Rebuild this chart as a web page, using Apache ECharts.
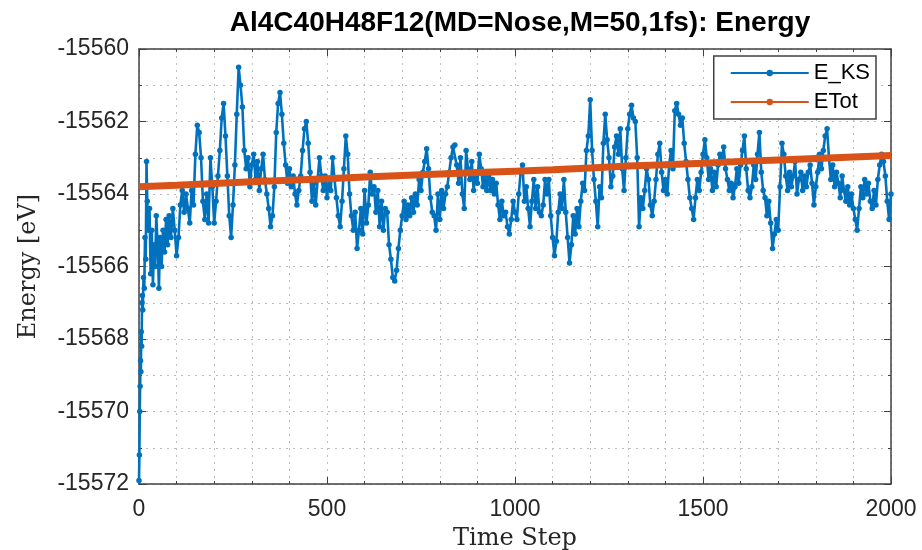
<!DOCTYPE html>
<html>
<head>
<meta charset="utf-8">
<script src="https://cdn.jsdelivr.net/npm/echarts@6/dist/echarts.min.js"></script>
<style>
  html, body { margin: 0; padding: 0; background: #fff; }
  #chart { width: 922px; height: 550px; }
</style>
</head>
<body>
<div id="chart"></div>
<script>
// MD run: Kohn-Sham energy and total energy versus time step
const titleText = 'Al4C40H48F12(MD=Nose,M=50,1fs): Energy';
const xTicks = [0, 500, 1000, 1500, 2000];
const yTicks = [-15572, -15570, -15568, -15566, -15564, -15562, -15560];

const ksStep = [
  0, 1, 2, 3, 4, 5, 6, 7, 8, 9, 10, 12, 14, 16, 18, 20, 22, 25, 28, 31, 34, 37, 40, 43, 46, 50,
  53, 56, 60, 64, 68, 72, 76, 80, 85, 90, 95, 100, 105, 110, 115, 120, 125, 130, 135, 140, 145,
  150, 155, 160, 165, 170, 175, 180, 185, 190, 195, 200, 205, 210, 215, 220, 225, 230, 235, 240,
  245, 250, 255, 260, 265, 270, 275, 280, 285, 290, 295, 300, 305, 310, 315, 320, 325, 330, 335,
  340, 345, 350, 355, 360, 365, 370, 375, 380, 385, 390, 395, 400, 405, 410, 415, 420, 425, 430,
  435, 440, 445, 450, 455, 460, 465, 470, 475, 480, 485, 490, 495, 500, 505, 510, 515, 520, 525,
  530, 535, 540, 545, 550, 555, 560, 565, 570, 575, 580, 585, 590, 595, 600, 605, 610, 615, 620,
  625, 630, 635, 640, 645, 650, 655, 660, 665, 670, 675, 680, 685, 690, 695, 700, 705, 710, 715,
  720, 725, 730, 735, 740, 745, 750, 755, 760, 765, 770, 775, 780, 785, 790, 795, 800, 805, 810,
  815, 820, 825, 830, 835, 840, 845, 850, 855, 860, 865, 870, 875, 880, 885, 890, 895, 900, 905,
  910, 915, 920, 925, 930, 935, 940, 945, 950, 955, 960, 965, 970, 975, 980, 985, 990, 995, 1000,
  1005, 1010, 1015, 1020, 1025, 1030, 1035, 1040, 1045, 1050, 1055, 1060, 1065, 1070, 1075, 1080,
  1085, 1090, 1095, 1100, 1105, 1110, 1115, 1120, 1125, 1130, 1135, 1140, 1145, 1150, 1155, 1160,
  1165, 1170, 1175, 1180, 1185, 1190, 1195, 1200, 1205, 1210, 1215, 1220, 1225, 1230, 1235, 1240,
  1245, 1250, 1255, 1260, 1265, 1270, 1275, 1280, 1285, 1290, 1295, 1300, 1305, 1310, 1315, 1320,
  1325, 1330, 1335, 1340, 1345, 1350, 1355, 1360, 1365, 1370, 1375, 1380, 1385, 1390, 1395, 1400,
  1405, 1410, 1415, 1420, 1425, 1430, 1435, 1440, 1445, 1450, 1455, 1460, 1465, 1470, 1475, 1480,
  1485, 1490, 1495, 1500, 1505, 1510, 1515, 1520, 1525, 1530, 1535, 1540, 1545, 1550, 1555, 1560,
  1565, 1570, 1575, 1580, 1585, 1590, 1595, 1600, 1605, 1610, 1615, 1620, 1625, 1630, 1635, 1640,
  1645, 1650, 1655, 1660, 1665, 1670, 1675, 1680, 1685, 1690, 1695, 1700, 1705, 1710, 1715, 1720,
  1725, 1730, 1735, 1740, 1745, 1750, 1755, 1760, 1765, 1770, 1775, 1780, 1785, 1790, 1795, 1800,
  1805, 1810, 1815, 1820, 1825, 1830, 1835, 1840, 1845, 1850, 1855, 1860, 1865, 1870, 1875, 1880,
  1885, 1890, 1895, 1900, 1905, 1910, 1915, 1920, 1925, 1930, 1935, 1940, 1945, 1950, 1955, 1960,
  1965, 1970, 1975, 1980, 1985, 1990, 1995, 2000
];

const ksEnergy = [
  -15571.9, -15571.2, -15570.0, -15569.3, -15568.6, -15568.9, -15567.8, -15568.2, -15567.0, -15566.8,
  -15567.2, -15566.3, -15566.6, -15565.2, -15565.8, -15563.1, -15564.2, -15565.0, -15564.4, -15566.2,
  -15565.0, -15566.5, -15565.4, -15566.0, -15564.6, -15565.5, -15566.6, -15565.2, -15566.0, -15565.0,
  -15565.6, -15564.7, -15565.4, -15564.6, -15565.2, -15564.4, -15565.0, -15565.7, -15565.2, -15564.3,
  -15563.9, -15564.5, -15564.0, -15564.4, -15564.8, -15563.9, -15564.3,
  -15562.9, -15562.1, -15562.3, -15563.0, -15564.2, -15564.7, -15564.0, -15564.8, -15563.0, -15563.8,
  -15564.8, -15564.2, -15563.5, -15562.8, -15561.9, -15561.5, -15562.4, -15563.5, -15564.6, -15565.2,
  -15564.3, -15563.2, -15561.8, -15560.5, -15561.0, -15561.6, -15562.8, -15563.3, -15563.0, -15563.8,
  -15563.2, -15562.9, -15563.6, -15563.1, -15563.9, -15563.3, -15562.9, -15563.6, -15564.0, -15564.4,
  -15564.9, -15564.6, -15563.8, -15562.3, -15561.5, -15561.2, -15561.8, -15562.6, -15563.2, -15563.7,
  -15563.3, -15563.8, -15563.5, -15564.0, -15564.3, -15563.9, -15563.5, -15562.8, -15562.2, -15562.0,
  -15562.6, -15563.4, -15564.2, -15563.7, -15564.3, -15563.6, -15563.0, -15563.5, -15563.9, -15563.5,
  -15564.1, -15563.6, -15563.9, -15563.0, -15563.6, -15564.1, -15564.6, -15564.9, -15564.2, -15563.3,
  -15562.4, -15562.9, -15564.0, -15564.6, -15565.0, -15564.5, -15565.5, -15565.0, -15564.4, -15565.1,
  -15563.9, -15564.8, -15564.3, -15563.4, -15564.0, -15563.8, -15564.5, -15563.9, -15564.9, -15564.2,
  -15565.0, -15564.4, -15564.5, -15565.4, -15565.8, -15566.3, -15566.4, -15566.1, -15565.5, -15565.0,
  -15564.6, -15564.2, -15564.7, -15564.3, -15564.6, -15564.1, -15564.5, -15564.0, -15564.3, -15563.6,
  -15563.9, -15563.4, -15563.1, -15562.75, -15563.3, -15564.1, -15564.5, -15564.6, -15565.0, -15564.0,
  -15564.7, -15563.9, -15564.4, -15564.0, -15563.8, -15563.4, -15563.0, -15562.7, -15562.65, -15563.2,
  -15563.7, -15563.0, -15564.0, -15564.4, -15562.8, -15563.3, -15563.6, -15563.1, -15563.9, -15563.4,
  -15563.7, -15562.9, -15563.3, -15563.8, -15563.4, -15563.9, -15563.5, -15563.9, -15563.6, -15564.0,
  -15563.7, -15564.3, -15564.7, -15564.2, -15564.6, -15564.5, -15564.9, -15565.1, -15564.7, -15564.2,
  -15564.5,
  -15564.7, -15564.0, -15563.4, -15563.2, -15564.2, -15563.8, -15564.4, -15564.9, -15564.2, -15563.6,
  -15564.4, -15563.8, -15564.5, -15564.6, -15564.3, -15563.6, -15564.0, -15563.6, -15564.6, -15565.2,
  -15565.7, -15565.3, -15564.5, -15564.0, -15564.4, -15563.6, -15564.5, -15565.2, -15565.9, -15565.4,
  -15564.6, -15565.1, -15564.4, -15564.9, -15564.2, -15563.7, -15563.9, -15562.8, -15562.4, -15561.4,
  -15562.8, -15563.6, -15564.2, -15564.9, -15563.8, -15564.1, -15562.6, -15561.8, -15562.5, -15563.0,
  -15563.8, -15563.5, -15562.7, -15562.4, -15562.9, -15562.2, -15563.3, -15563.9, -15563.0, -15562.2,
  -15561.8, -15561.55, -15561.9, -15562.0, -15563.0, -15564.9, -15564.1, -15564.4, -15563.9, -15563.3,
  -15563.6, -15564.3, -15564.6, -15564.2, -15563.6, -15562.9, -15562.6, -15563.4, -15563.9, -15563.6,
  -15564.0, -15563.2, -15562.8, -15563.3, -15561.7, -15561.5, -15561.8, -15562.1, -15561.9, -15562.6,
  -15563.1, -15563.6, -15564.1, -15564.4, -15564.7, -15564.1, -15563.6, -15563.9, -15563.4, -15562.9,
  -15562.5, -15563.0, -15563.6, -15563.3, -15563.9, -15563.4, -15563.8, -15563.2, -15562.9, -15563.1,
  -15562.7, -15563.3, -15563.6, -15563.9, -15563.7, -15564.1, -15563.8, -15563.3, -15563.7, -15563.2,
  -15562.8, -15562.4, -15563.3, -15563.9, -15564.1, -15563.8, -15563.2, -15563.6, -15562.9, -15562.3,
  -15563.4, -15563.9, -15564.1, -15564.6, -15564.2, -15564.8, -15565.5, -15565.1, -15564.7, -15565.0,
  -15563.8, -15562.6, -15562.9, -15563.5, -15563.9, -15563.4, -15563.8, -15563.5, -15563.1, -15564.0,
  -15563.6, -15563.4, -15563.9, -15563.5, -15563.8, -15563.4, -15563.2, -15563.7, -15564.3, -15563.8,
  -15563.4, -15562.9, -15563.3, -15562.8, -15562.4, -15562.2, -15563.0, -15563.6, -15563.2, -15563.8,
  -15563.4, -15563.7, -15564.1, -15563.5, -15563.9, -15564.2, -15563.8, -15564.3, -15564.0, -15564.4,
  -15564.7, -15565.0, -15564.4, -15563.8, -15564.1, -15563.6, -15564.0, -15563.7, -15564.2, -15564.4,
  -15563.9, -15564.3, -15563.6, -15563.2, -15562.9, -15563.1, -15563.5, -15564.2, -15564.7, -15564.0
];

const totStep = [0, 100, 200, 300, 400, 500, 600, 700, 800, 900, 1000,
  1100, 1200, 1300, 1400, 1500, 1600, 1700, 1800, 1900, 2000];
const totEnergy = [
  -15563.80, -15563.76, -15563.71, -15563.66, -15563.62, -15563.58, -15563.53,
  -15563.49, -15563.45, -15563.41, -15563.37, -15563.33, -15563.28, -15563.23,
  -15563.19, -15563.15, -15563.10, -15563.06, -15563.02, -15562.98, -15562.94
];

const pairs = (xs, ys) => xs.map((x, i) => [x, ys[i]]);

const axisColor = '#404040';
const gridLine = { show: true, lineStyle: { color: '#bcbcbc', width: 1, type: [2, 5] } };
const sansFamily = 'Liberation Sans, Arial, sans-serif';
const serifFamily = 'DejaVu Serif, Liberation Serif, serif';
const labelFont = { fontFamily: sansFamily, fontSize: 23, color: '#262626', formatter: v => String(v) };

const chart = echarts.init(document.getElementById('chart'), null, { renderer: 'canvas' });

const xBase = {
  type: 'value', min: xTicks[0], max: xTicks[xTicks.length - 1], interval: 500,
  axisLine: { show: true, onZero: false, lineStyle: { color: axisColor, width: 1.5 } },
  axisTick: { show: true, inside: true, length: 7, lineStyle: { color: axisColor } },
  minorTick: { show: true, splitNumber: 5, length: 3, lineStyle: { color: axisColor } }
};
const yBase = {
  type: 'value', min: yTicks[0], max: yTicks[yTicks.length - 1], interval: 2,
  axisLine: { show: true, onZero: false, lineStyle: { color: axisColor, width: 1.5 } },
  axisTick: { show: true, inside: true, length: 7, lineStyle: { color: axisColor } },
  minorTick: { show: true, splitNumber: 2, length: 3, lineStyle: { color: axisColor } }
};

chart.setOption({
  animation: false,
  backgroundColor: '#ffffff',
  title: {
    text: titleText,
    left: 515, top: 4, textAlign: 'center',
    textStyle: { fontFamily: sansFamily, fontWeight: 'bold', fontSize: 28, color: '#000' }
  },
  grid: { left: 139, right: 31, top: 49, bottom: 66, outerBoundsMode: 'none', containLabel: false },
  legend: {
    right: 46, top: 56,
    orient: 'vertical',
    backgroundColor: '#ffffff',
    borderColor: '#404040', borderWidth: 1.5,
    padding: [6, 6, 6, 16],
    itemGap: 7,
    itemWidth: 78, itemHeight: 8,
    lineStyle: { width: 2 },
    textStyle: { fontFamily: sansFamily, fontSize: 22, color: '#000' },
    data: ['E_KS', 'ETot']
  },
  xAxis: [
    Object.assign({}, xBase, {
      position: 'bottom',
      name: 'Time Step', nameLocation: 'middle', nameGap: 43,
      nameTextStyle: { fontFamily: serifFamily, fontSize: 24, color: '#262626' },
      axisLabel: Object.assign({ margin: 14 }, labelFont),
      splitLine: gridLine,
      minorSplitLine: gridLine
    }),
    Object.assign({}, xBase, {
      position: 'top',
      axisLabel: { show: false },
      splitLine: { show: false }
    })
  ],
  yAxis: [
    Object.assign({}, yBase, {
      position: 'left',
      name: 'Energy [eV]', nameLocation: 'middle', nameGap: 98,
      nameTextStyle: { fontFamily: serifFamily, fontSize: 24, color: '#262626' },
      axisLabel: Object.assign({ margin: 10 }, labelFont),
      splitLine: gridLine,
      minorSplitLine: gridLine
    }),
    Object.assign({}, yBase, {
      position: 'right',
      axisLabel: { show: false },
      splitLine: { show: false }
    })
  ],
  series: [
    {
      name: 'E_KS', type: 'line',
      data: pairs(ksStep, ksEnergy),
      color: '#0072BD',
      lineStyle: { color: '#0072BD', width: 2.6 },
      symbol: 'circle', symbolSize: 5.5, showSymbol: true,
      itemStyle: { color: '#0072BD' },
      z: 2
    },
    {
      name: 'ETot', type: 'line',
      data: pairs(totStep, totEnergy),
      color: '#D95319',
      lineStyle: { color: '#D95319', width: 7 },
      symbol: 'circle', symbolSize: 5, showSymbol: false,
      itemStyle: { color: '#D95319' },
      z: 3
    }
  ]
});
</script>
</body>
</html>
